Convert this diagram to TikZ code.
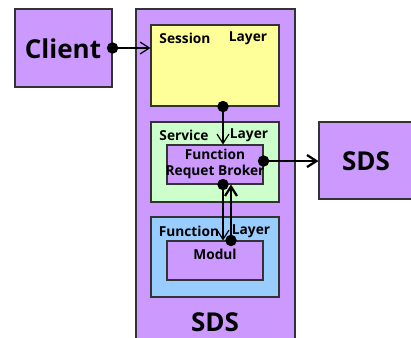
\documentclass[tikz,border=0pt]{standalone}
\usepackage{fontspec}
\setmainfont{Open Sans}
\usetikzlibrary{arrows.meta}
\definecolor{lila}{HTML}{CC99FF}
\definecolor{gelb}{HTML}{FFFF99}
\definecolor{gruen}{HTML}{CCFFCC}
\definecolor{blau}{HTML}{99CCFF}

\begin{document}
\begin{tikzpicture}[x=0.75pt, y=-0.75pt, font=\bfseries,
    box/.style={draw=black!80, line width=0.8pt, inner sep=0pt},
    big/.style={font=\fontsize{19.5}{22}\selectfont\bfseries},
    small/.style={font=\fontsize{10.3}{12}\selectfont\bfseries, inner sep=0pt},
    link/.style={{Circle[length=8.5pt]}-{Straight Barb[length=7pt, width=9pt]}, line width=0.9pt, shorten <=-4.25pt},
    strong/.style={link, line width=1.7pt}]
        \useasboundingbox (0,0) rectangle (411,337);
        \clip (0,0) rectangle (411,337);

        \node[box, fill=lila, minimum width=72.75pt, minimum height=58.5pt] (client) at (63.5,48) {};
        \node[big] (clientlbl) at (63,49) {Client};
        \node[box, fill=lila, minimum width=119.25pt, minimum height=252pt] (sds) at (215.5,177) {};
        \node[big] (sdslbl) at (215,322) {SDS};
        \node[box, fill=lila, minimum width=72pt, minimum height=57.75pt] (remote) at (367,160.5) {};
        \node[big] (remotelbl) at (366,161) {SDS};

        % layers
        \node[box, fill=gelb, minimum width=96pt, minimum height=60.75pt] (session) at (215,65.5) {};
        \node[small] (sessionl) at (185,38) {Session};
        \node[small] (sessionr) at (248,38) {Layer};
        \node[box, fill=gruen, minimum width=96pt, minimum height=60pt] (service) at (215,162) {};
        \node[small] (servicel) at (184,135) {Service};
        \node[small] (servicer) at (249,135) {Layer};
        \node[box, fill=blau, minimum width=96pt, minimum height=60pt] (function) at (215,257) {};
        \node[small] (functionl) at (189,231) {Function};
        \node[small] (functionr) at (251,231) {Layer};

        \node[box, fill=lila, minimum width=72pt, minimum height=29.25pt] (frb) at (215,164.5) {};
        \node[small, align=center] (frblbl) at (215,164) {Function\\Requet Broker};
        \node[box, fill=lila, minimum width=72pt, minimum height=29.25pt] (modul) at (215,260.5) {};
        \node[small] (modullbl) at (215,254) {Modul};

        \draw[link] (client.east) -- (client.east -| session.west);
        \draw[link] ([xshift=6pt]session.south) -- ([xshift=6pt]frb.north);
        \draw[strong] ([yshift=2.6pt]frb.east) -- ([yshift=2.6pt]frb.east -| remote.west);
        \draw[link] ([xshift=6pt]frb.south) -- ([xshift=6pt]modul.north);
        \draw[strong] ([xshift=12pt]modul.north) -- ([xshift=12pt]frb.south);
\end{tikzpicture}
\end{document}
